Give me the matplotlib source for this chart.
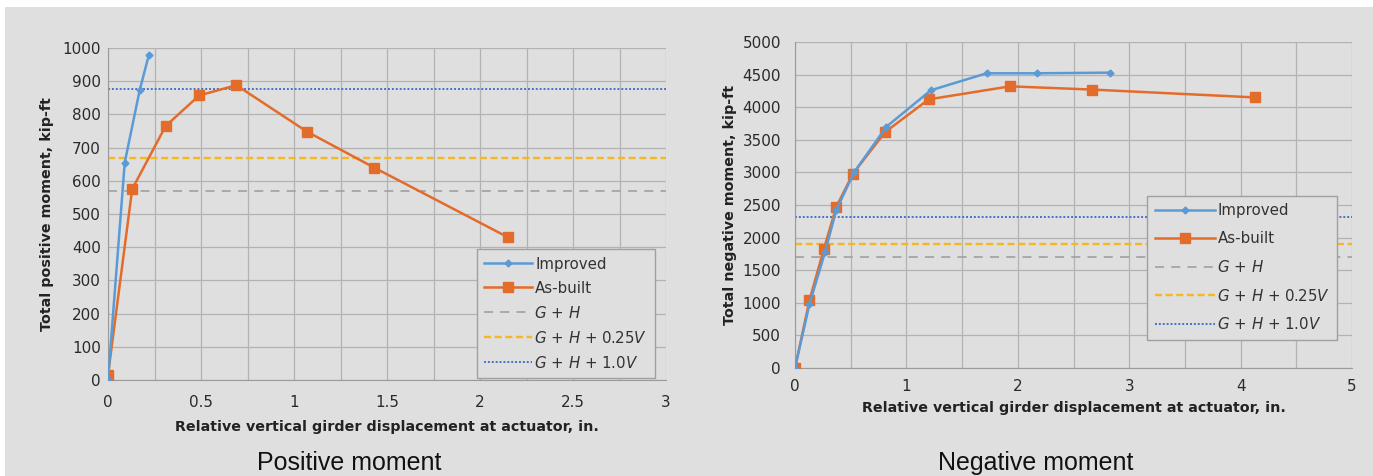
import matplotlib
matplotlib.use("Agg")
import matplotlib.pyplot as plt
from matplotlib.patches import Rectangle
from matplotlib.ticker import MultipleLocator, FuncFormatter

# positive moment panel
pos_imp_x = [0, 0.09, 0.17, 0.22]
pos_imp_y = [0, 655, 872, 980]
pos_asb_x = [0, 0.13, 0.31, 0.49, 0.69, 1.07, 1.43, 2.15]
pos_asb_y = [15, 575, 765, 857, 888, 748, 640, 430]
pos_gh, pos_gh025, pos_gh100 = 570, 668, 878

# negative moment panel
neg_imp_x = [0, 0.13, 0.27, 0.37, 0.53, 0.82, 1.22, 1.72, 2.17, 2.83]
neg_imp_y = [0, 980, 1780, 2420, 3000, 3700, 4260, 4520, 4520, 4530]
neg_asb_x = [0, 0.13, 0.26, 0.37, 0.52, 0.81, 1.2, 1.93, 2.67, 4.13]
neg_asb_y = [0, 1040, 1830, 2470, 2980, 3620, 4120, 4320, 4270, 4150]
neg_gh, neg_gh025, neg_gh100 = 1700, 1900, 2320

blue = "#5b9bd5"
orange = "#e46c2a"
panel = "#dfdfe0"
xlabel = "Relative vertical girder displacement at actuator, in."

fig = plt.figure(figsize=(13.73, 4.76), dpi=100)
fig.patch.set_facecolor(panel)
# thin white margins along the top and left edge
fig.patches.append(Rectangle((0, 1 - 7 / 476), 1, 7 / 476, transform=fig.transFigure,
                             facecolor="white", edgecolor="none", zorder=-5))
fig.patches.append(Rectangle((0, 0), 5 / 1373, 1, transform=fig.transFigure,
                             facecolor="white", edgecolor="none", zorder=-5))


def draw_panel(ax, ix, iy, bx, by, gh, gh025, gh100, xmax, ymax, xmaj, xmin, ymaj, ylabel,
               legend_pos, spacing, hlen, xpad, ypad, xlpad, ylpad):
    ax.set_facecolor(panel)
    ax.plot(ix, iy, color=blue, lw=1.8, marker="D", ms=3.5, label="Improved", zorder=4)
    ax.plot(bx, by, color=orange, lw=1.8, marker="s", ms=6.5, label="As-built", zorder=3)
    ax.axhline(gh, color="#a5a5a5", lw=1.3, ls=(0, (5, 4)), label=r"$\!G$ + $H$", zorder=2)
    ax.axhline(gh025, color="#f5b820", lw=1.7, ls=(0, (3, 1.5)),
               label=r"$\!G$ + $H$ + 0.25$V$", zorder=2)
    ax.axhline(gh100, color="#4472c4", lw=1.4, ls=(0, (1, 1)),
               label=r"$\!G$ + $H$ + 1.0$V$", zorder=2)
    ax.set_xlim(0, xmax)
    ax.set_ylim(0, ymax)
    ax.xaxis.set_major_locator(MultipleLocator(xmaj))
    ax.xaxis.set_minor_locator(MultipleLocator(xmin))
    ax.yaxis.set_major_locator(MultipleLocator(ymaj))
    ax.xaxis.set_major_formatter(FuncFormatter(lambda v, p: "{:g}".format(v)))
    ax.grid(True, which="both", color="#b2b2b2", lw=0.9)
    ax.set_axisbelow(True)
    for s in ax.spines.values():
        s.set_visible(False)
    ax.spines["left"].set_visible(True)
    ax.spines["bottom"].set_visible(True)
    ax.spines["left"].set_color("#9a9a9a")
    ax.spines["bottom"].set_color("#9a9a9a")
    ax.tick_params(which="both", length=0, labelsize=10.9, colors="#2a2a2a")
    ax.tick_params(axis="x", pad=xpad)
    ax.tick_params(axis="y", pad=ypad)
    ax.set_xlabel(xlabel, fontsize=10.3, fontweight="bold", color="#222222", labelpad=xlpad)
    ax.set_ylabel(ylabel, fontsize=10.3, fontweight="bold", color="#222222", labelpad=ylpad)
    leg = ax.legend(loc="lower left", bbox_to_anchor=legend_pos, fontsize=10.8, frameon=True,
                    fancybox=False, handlelength=hlen, handletextpad=0.2, labelspacing=spacing,
                    borderpad=0.5, borderaxespad=0)
    leg.get_frame().set_facecolor(panel)
    leg.get_frame().set_edgecolor("#a0a0a0")
    leg.get_frame().set_alpha(1)
    for t in leg.get_texts():
        t.set_color("#333333")


ax1 = fig.add_axes([108 / 1373, 1 - 380 / 476, 558 / 1373, 332 / 476])
draw_panel(ax1, pos_imp_x, pos_imp_y, pos_asb_x, pos_asb_y, pos_gh, pos_gh025, pos_gh100,
           3, 1000, 0.5, 0.25, 100, "Total positive moment, kip-ft", (0.661, 0.006),
           0.6, 3.2, 11, 5, 7, 6)

ax2 = fig.add_axes([795 / 1373, 1 - 368 / 476, 557 / 1373, 326 / 476])
draw_panel(ax2, neg_imp_x, neg_imp_y, neg_asb_x, neg_asb_y, neg_gh, neg_gh025, neg_gh100,
           5, 5000, 1, 0.5, 500, "Total negative moment, kip-ft", (0.632, 0.086),
           0.85, 4.0, 8, 10, 5, 4)

fig.text(349 / 1373, 1 - 463 / 476, "Positive moment", fontsize=18, color="#111111",
         ha="center", va="center", family=["Liberation Sans", "DejaVu Sans"])
fig.text(1036 / 1373, 1 - 463 / 476, "Negative moment", fontsize=18, color="#111111",
         ha="center", va="center", family=["Liberation Sans", "DejaVu Sans"])

fig.savefig("out.png", dpi=100, facecolor=fig.get_facecolor())
